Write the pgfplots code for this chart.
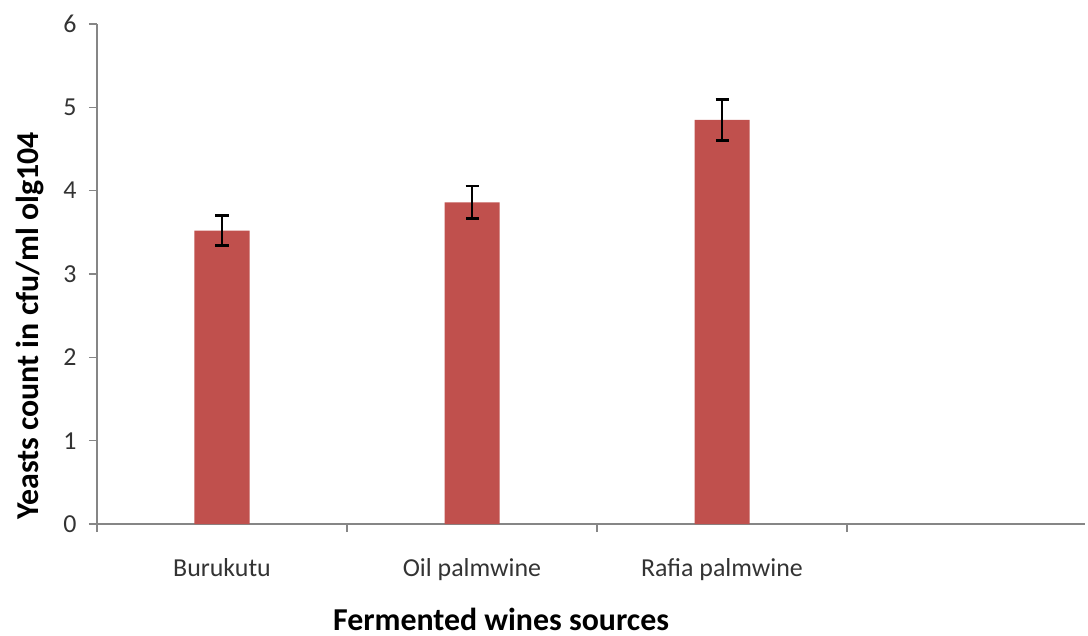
\documentclass[border=0pt]{standalone}
\usepackage{fontspec}
\setmainfont{Carlito}
\usepackage{pgfplots}
\pgfplotsset{compat=1.18}
\definecolor{barred}{HTML}{C0504D}
\definecolor{axgray}{HTML}{868686}
\definecolor{txt}{HTML}{333333}
\begin{document}
\begin{tikzpicture}
\begin{axis}[
  at={(0,0)}, anchor=south west,
  scale only axis,
  width=988bp, height=500bp,
  xmin=-0.5, xmax=3.452,
  ymin=0, ymax=6,
  axis x line=bottom, axis y line=left,
  axis line style={axgray, line width=1.2bp, -},
  every tick/.style={axgray, line width=1.2bp},
  tick align=outside,
  major tick length=8bp,
  ytick={0,1,2,3,4,5,6},
  xtick={-0.5,0.5,1.5,2.5},
  xticklabels={},
  extra x ticks={0,1,2},
  extra x tick labels={Burukutu,Oil palmwine,Rafia palmwine},
  extra x tick style={major tick length=0pt, xticklabel style={anchor=base, yshift=-52bp}},
  /pgf/number format/assume math mode=true,
  tick label style={font=\fontsize{26}{30}\selectfont, text=txt},
  yticklabel style={anchor=east, xshift=-9bp},
  ylabel={\textbf{Yeasts count in cfu/ml olg104}},
  ylabel style={at={(axis description cs:-0.068,0.396)}, anchor=center, rotate=0, font=\fontsize{32}{36}\selectfont, text=black},
  xlabel={\textbf{Fermented wines sources}},
  xlabel style={at={(axis description cs:0.409,-0.19)}, anchor=center, font=\fontsize{32}{36}\selectfont, text=black},
  clip=false,
]
\addplot[ybar, bar width=55bp, fill=barred, draw=none,
  error bars/.cd, y dir=both, y explicit,
  error bar style={black, line width=2.6bp},
  error mark options={rotate=90, mark size=6.5bp, line width=2.6bp, black}]
  coordinates {
  (0,3.52) +- (0,0.18)
  (1,3.86) +- (0,0.195)
  (2,4.85) +- (0,0.245)
  };
\end{axis}
\pgfresetboundingbox
\path[use as bounding box] (-97bp,-112bp) rectangle (991bp,524bp);
\end{tikzpicture}
\end{document}
